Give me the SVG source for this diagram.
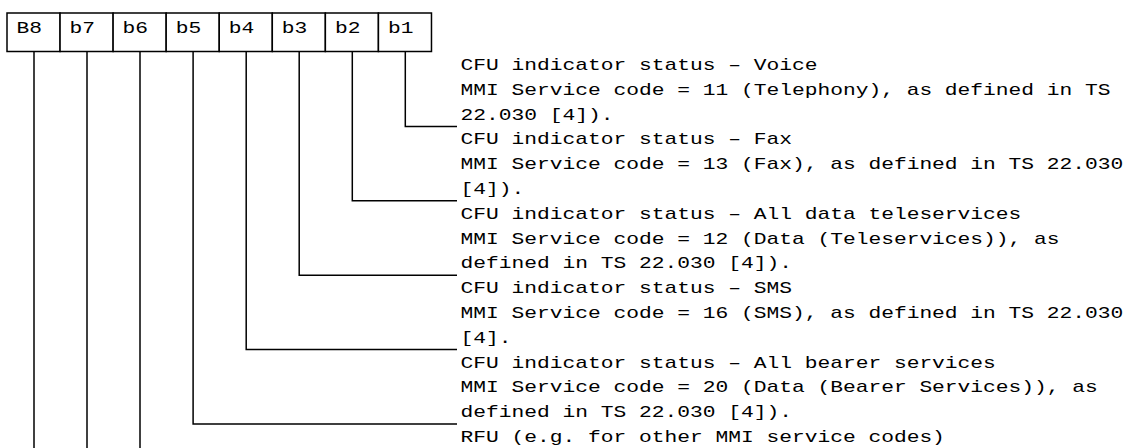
<svg xmlns="http://www.w3.org/2000/svg" width="1138" height="448" viewBox="0 0 1138 448">
<style>
  .cell { fill: #ffffff; stroke: #000000; stroke-width: 1.5; }
  .conn { fill: none; stroke: #000000; stroke-width: 1.5; }
  .t { font-family: "Liberation Mono", "Courier New", monospace; font-size: 17px; fill: #000000; }
</style>
<rect x="0" y="0" width="1138" height="448" fill="#ffffff"/>
<g id="bits">
  <g id="bit-B8"><rect class="cell" x="7" y="13" width="53.06" height="38.5"/><text class="t" transform="translate(16.5,32.5) scale(1.25,1)">B8</text></g>
  <g id="bit-b7"><rect class="cell" x="60.06" y="13" width="53.06" height="38.5"/><text class="t" transform="translate(69.6,32.5) scale(1.25,1)">b7</text></g>
  <g id="bit-b6"><rect class="cell" x="113.12" y="13" width="53.06" height="38.5"/><text class="t" transform="translate(122.6,32.5) scale(1.25,1)">b6</text></g>
  <g id="bit-b5"><rect class="cell" x="166.18" y="13" width="53.06" height="38.5"/><text class="t" transform="translate(175.7,32.5) scale(1.25,1)">b5</text></g>
  <g id="bit-b4"><rect class="cell" x="219.24" y="13" width="53.06" height="38.5"/><text class="t" transform="translate(228.7,32.5) scale(1.25,1)">b4</text></g>
  <g id="bit-b3"><rect class="cell" x="272.3" y="13" width="53.06" height="38.5"/><text class="t" transform="translate(281.8,32.5) scale(1.25,1)">b3</text></g>
  <g id="bit-b2"><rect class="cell" x="325.36" y="13" width="53.06" height="38.5"/><text class="t" transform="translate(334.9,32.5) scale(1.25,1)">b2</text></g>
  <g id="bit-b1"><rect class="cell" x="378.42" y="13" width="53.06" height="38.5"/><text class="t" transform="translate(387.9,32.5) scale(1.25,1)">b1</text></g>
</g>
<g id="connectors">
  <polyline class="conn" points="405.3,51.5 405.3,126.4 457,126.4"/>
  <polyline class="conn" points="352.3,51.5 352.3,200.8 457,200.8"/>
  <polyline class="conn" points="299.2,51.5 299.2,275.2 457,275.2"/>
  <polyline class="conn" points="246.2,51.5 246.2,349.6 457,349.6"/>
  <polyline class="conn" points="193.1,51.5 193.1,424 457,424"/>
  <line class="conn" x1="140" y1="51.5" x2="140" y2="448"/>
  <line class="conn" x1="87" y1="51.5" x2="87" y2="448"/>
  <line class="conn" x1="34" y1="51.5" x2="34" y2="448"/>
</g>
<g id="descriptions">
  <g id="desc-b1">
    <text class="t" transform="translate(460.5,70) scale(1.25,1)">CFU indicator status – Voice</text>
    <text class="t" transform="translate(460.5,94.8) scale(1.25,1)">MMI Service code = 11 (Telephony), as defined in TS</text>
    <text class="t" transform="translate(460.5,119.6) scale(1.25,1)">22.030 [4]).</text>
  </g>
  <g id="desc-b2">
    <text class="t" transform="translate(460.5,144.4) scale(1.25,1)">CFU indicator status – Fax</text>
    <text class="t" transform="translate(460.5,169.2) scale(1.25,1)">MMI Service code = 13 (Fax), as defined in TS 22.030</text>
    <text class="t" transform="translate(460.5,194) scale(1.25,1)">[4]).</text>
  </g>
  <g id="desc-b3">
    <text class="t" transform="translate(460.5,218.8) scale(1.25,1)">CFU indicator status – All data teleservices</text>
    <text class="t" transform="translate(460.5,243.6) scale(1.25,1)">MMI Service code = 12 (Data (Teleservices)), as</text>
    <text class="t" transform="translate(460.5,268.4) scale(1.25,1)">defined in TS 22.030 [4]).</text>
  </g>
  <g id="desc-b4">
    <text class="t" transform="translate(460.5,293.2) scale(1.25,1)">CFU indicator status – SMS</text>
    <text class="t" transform="translate(460.5,318) scale(1.25,1)">MMI Service code = 16 (SMS), as defined in TS 22.030</text>
    <text class="t" transform="translate(460.5,342.8) scale(1.25,1)">[4].</text>
  </g>
  <g id="desc-b5">
    <text class="t" transform="translate(460.5,367.6) scale(1.25,1)">CFU indicator status – All bearer services</text>
    <text class="t" transform="translate(460.5,392.4) scale(1.25,1)">MMI Service code = 20 (Data (Bearer Services)), as</text>
    <text class="t" transform="translate(460.5,417.2) scale(1.25,1)">defined in TS 22.030 [4]).</text>
  </g>
  <g id="desc-rfu">
    <text class="t" transform="translate(460.5,442) scale(1.25,1)">RFU (e.g. for other MMI service codes)</text>
  </g>
</g>
</svg>
